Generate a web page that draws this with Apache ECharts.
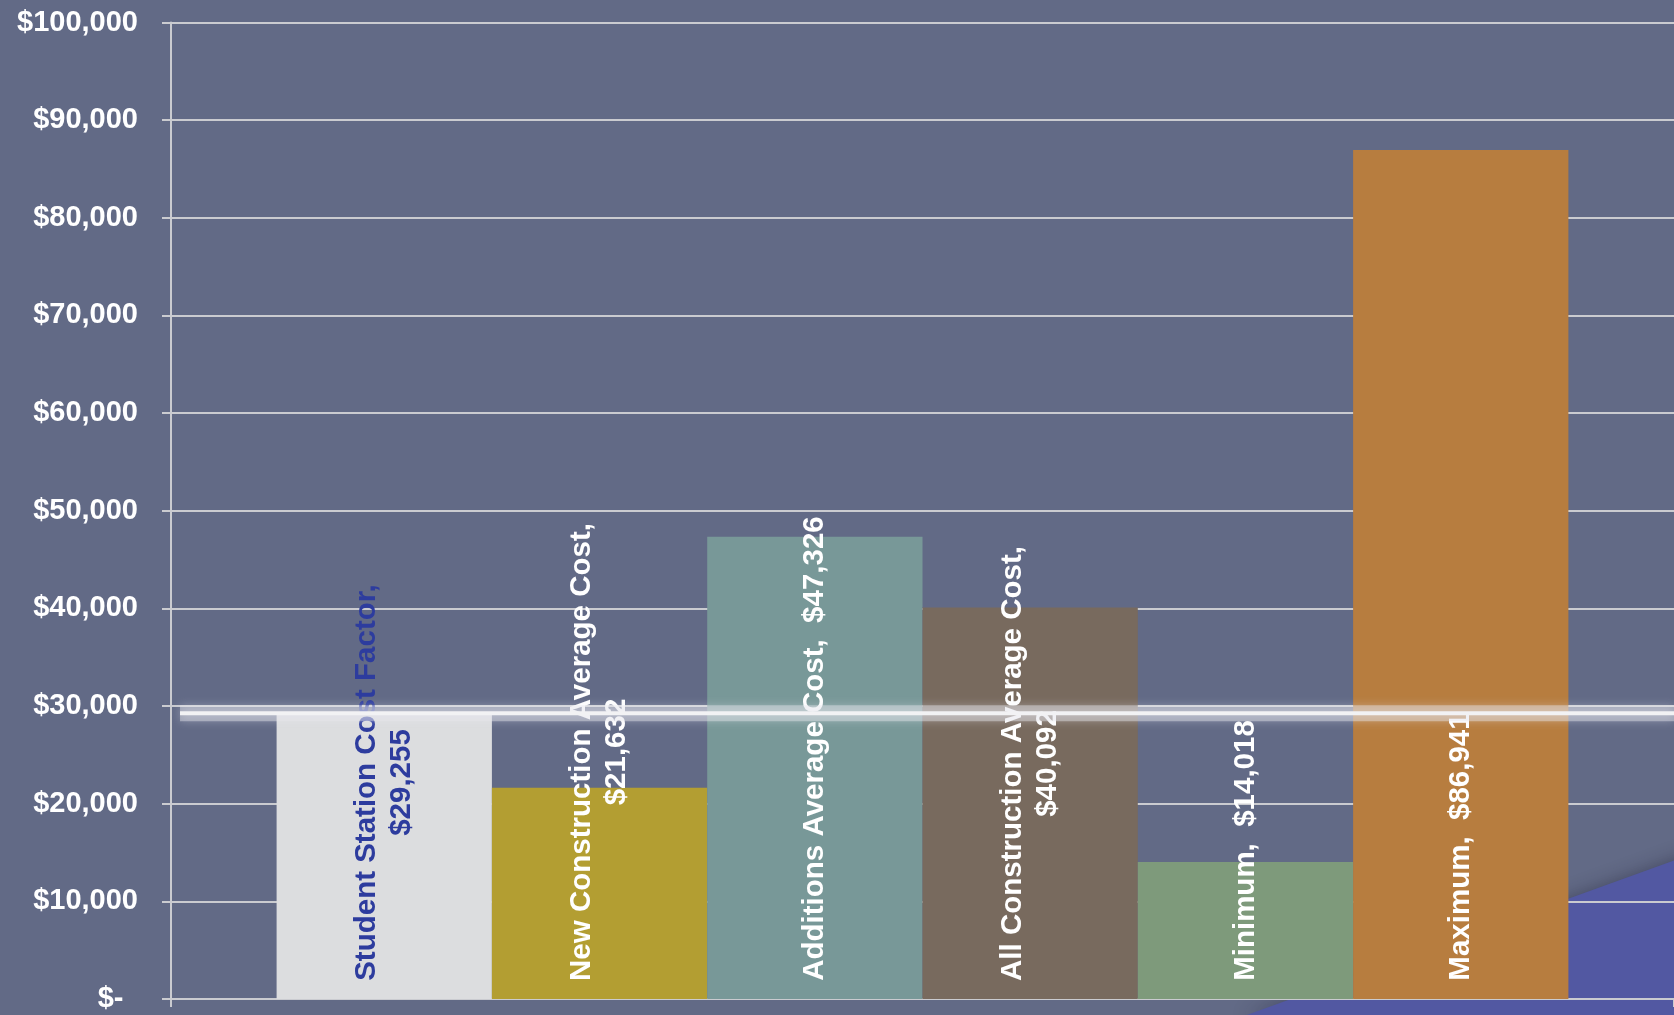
<!DOCTYPE html>
<html><head><meta charset="utf-8">
<script src="https://cdn.jsdelivr.net/npm/echarts@6/dist/echarts.min.js"></script>
<style>html,body{margin:0;padding:0;background:#626a86;}#c{width:1674px;height:1015px;}</style>
</head><body><div id="c"></div>
<script>
const categories = ['Student Station Cost Factor', 'New Construction Average Cost', 'Additions Average Cost', 'All Construction Average Cost', 'Minimum', 'Maximum'];
const values = [29255, 21632, 47326, 40092, 14018, 86941];
const labelLines = [
  ['Student Station Cost Factor,', '$29,255'],
  ['New Construction Average Cost,', '$21,632'],
  ['Additions Average Cost,  $47,326'],
  ['All Construction Average Cost,', '$40,092'],
  ['Minimum,  $14,018'],
  ['Maximum,  $86,941']
];
const barColors = ['#dcdddf', '#b39e32', '#789898', '#786a5e', '#7e9a7b', '#b77d3f'];
const labelColors = ['#2d3c9e', '#ffffff', '#ffffff', '#ffffff', '#ffffff', '#ffffff'];
const yTickLabels = ['$-\u2002', '$10,000', '$20,000', '$30,000', '$40,000', '$50,000', '$60,000', '$70,000', '$80,000', '$90,000', '$100,000'];
const referenceLineValue = values[0];

const FONT = '"Liberation Sans", Arial, sans-serif';
const LABEL_SIZE = 29.5;
const ctx = document.createElement('canvas').getContext('2d');
ctx.font = 'bold ' + LABEL_SIZE + 'px "Liberation Sans"';
const blockWidths = labelLines.map(lines => Math.ceil(Math.max(...lines.map(l => ctx.measureText(l).width))));

const gridColor = '#cacbd0';
const chart = echarts.init(document.getElementById('c'), null, {renderer: 'canvas'});

const barSeries = categories.map((name, i) => ({
  type: 'bar',
  name: name,
  data: [values[i]],
  barGap: '0%',
  barWidth: 215.3,
  itemStyle: {color: barColors[i]},
  label: {
    show: true,
    position: 'insideBottom',
    distance: 18,
    rotate: 90,
    align: 'left',
    verticalAlign: 'middle',
    formatter: labelLines[i].map(l => '{t|' + l + '}').join('\n'),
    rich: {
      t: {
        width: blockWidths[i],
        align: 'center',
        color: labelColors[i],
        fontSize: LABEL_SIZE,
        fontWeight: 'bold',
        fontFamily: FONT,
        lineHeight: 35
      }
    }
  }
}));

const option = {
  animation: false,
  backgroundColor: '#626a86',
  grid: {left: 171, right: 0, top: 22.5, bottom: 16, containLabel: false},
  xAxis: [{
    type: 'category',
    data: [''],
    axisLine: {show: true, lineStyle: {color: gridColor, width: 2}},
    axisTick: {show: true, length: 8, lineStyle: {color: gridColor, width: 2}},
    axisLabel: {show: false},
    splitLine: {show: false}
  }, {
    type: 'value', min: 0, max: 1, show: false
  }],
  yAxis: {
    type: 'value',
    min: 0, max: 100000, interval: 10000,
    axisLine: {show: true, lineStyle: {color: gridColor, width: 2}},
    axisTick: {show: true, length: 9, lineStyle: {color: gridColor, width: 2}},
    splitLine: {show: true, lineStyle: {color: gridColor, width: 2}},
    axisLabel: {
      color: '#ffffff', fontSize: 29, fontWeight: 'bold', fontFamily: FONT, margin: 33,
      formatter: v => yTickLabels[Math.round(v / 10000)]
    }
  },
  graphic: [{
    type: 'polygon', z: -1, silent: true,
    shape: {points: [[1244, 1016], [1700, 851], [1700, 1016]]},
    style: {fill: '#5258a2', shadowBlur: 18, shadowColor: 'rgba(30,30,50,0.45)'}
  }],
  series: barSeries.concat([{
    type: 'line',
    xAxisIndex: 1, yAxisIndex: 0,
    data: [[0.006, referenceLineValue], [1, referenceLineValue]],
    symbol: 'none', silent: true, z: 9,
    lineStyle: {color: 'rgba(230,230,238,0.45)', width: 16, shadowBlur: 10, shadowColor: 'rgba(230,230,238,0.7)'}
  }, {
    type: 'line',
    xAxisIndex: 1, yAxisIndex: 0,
    data: [[0.006, referenceLineValue], [1, referenceLineValue]],
    symbol: 'none', silent: true, z: 10,
    lineStyle: {color: '#f2f2f4', width: 4}
  }])
};
chart.setOption(option);
</script>
</body></html>
